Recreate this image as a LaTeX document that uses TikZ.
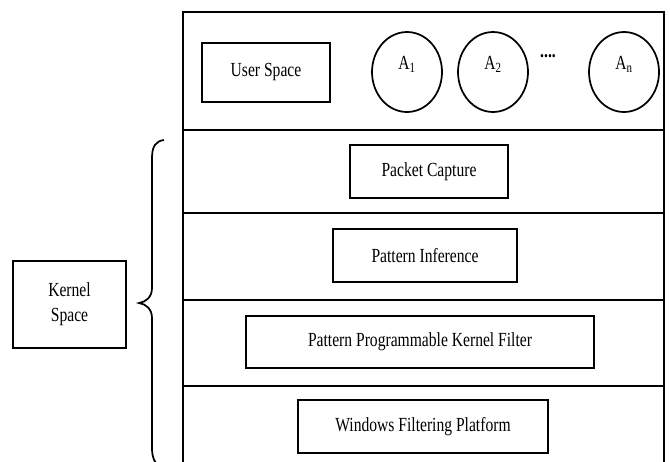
\documentclass[tikz,border=0pt]{standalone}
\usepackage{fontspec}
\setmainfont{Liberation Serif}[FakeStretch=0.78]
\usetikzlibrary{shapes.geometric}
\begin{document}
\begin{tikzpicture}[x=0.75pt,y=-0.75pt,
  lw/.style={line width=1.3pt},
  box/.style={draw,lw,rectangle,inner sep=0pt,align=center,
    font=\fontsize{15}{18.5}\selectfont},
  proc/.style={draw,lw,ellipse,inner sep=0pt,minimum width=70*0.75pt,minimum height=80*0.75pt},
  lbl/.style={font=\fontsize{15}{18}\selectfont,inner sep=0pt}]
\useasboundingbox (0,0) rectangle (670,461);
\fill[white] (0,0) rectangle (670,461);
% frame
\draw[lw] (183,475) -- (183,12) -- (664,12) -- (664,475);
\draw[lw] (183,130) -- (664,130);
\draw[lw] (183,213) -- (664,213);
\draw[lw] (183,300) -- (664,300);
\draw[lw] (183,386) -- (664,386);
% user space layer
\node[box,minimum width=128*0.75pt,minimum height=59*0.75pt] (us) at (266,72.5) {User Space};
\node[proc] (a1) at (407,72) {};
\node[proc] (a2) at (493,72) {};
\node[proc] (an) at (624,72) {};
\node[lbl] at ([yshift=6pt]a1.center) {A\textsubscript{1}};
\node[lbl] at ([yshift=6pt]a2.center) {A\textsubscript{2}};
\node[lbl] at ([yshift=6pt]an.center) {A\textsubscript{n}};
\node[lbl,font=\fontsize{15}{18}\selectfont\bfseries] (dots) at (548,56) {....};
% kernel layers
\node[box,minimum width=158*0.75pt,minimum height=53*0.75pt] (pc) at (429,171.5) {Packet Capture};
\node[box,minimum width=184*0.75pt,minimum height=53*0.75pt] (pi) at (425,255.5) {Pattern Inference};
\node[box,minimum width=348*0.75pt,minimum height=52*0.75pt] (ppkf) at (420,342) {Pattern Programmable Kernel Filter};
\node[box,minimum width=250*0.75pt,minimum height=53*0.75pt] (wfp) at (423,426.5) {Windows Filtering Platform};
% kernel space label and brace
\node[box,minimum width=113*0.75pt,minimum height=87*0.75pt] (ks) at (69.5,304.5) {Kernel\\Space};
\draw[lw] (164,140) .. controls (156,141) and (152,146) .. (152,158) -- (152,288)
  .. controls (152,297) and (146,302) .. (139,303)
  .. controls (146,304) and (152,309) .. (152,318) -- (152,448)
  .. controls (152,458) and (155,463) .. (160,468);
\end{tikzpicture}
\end{document}
